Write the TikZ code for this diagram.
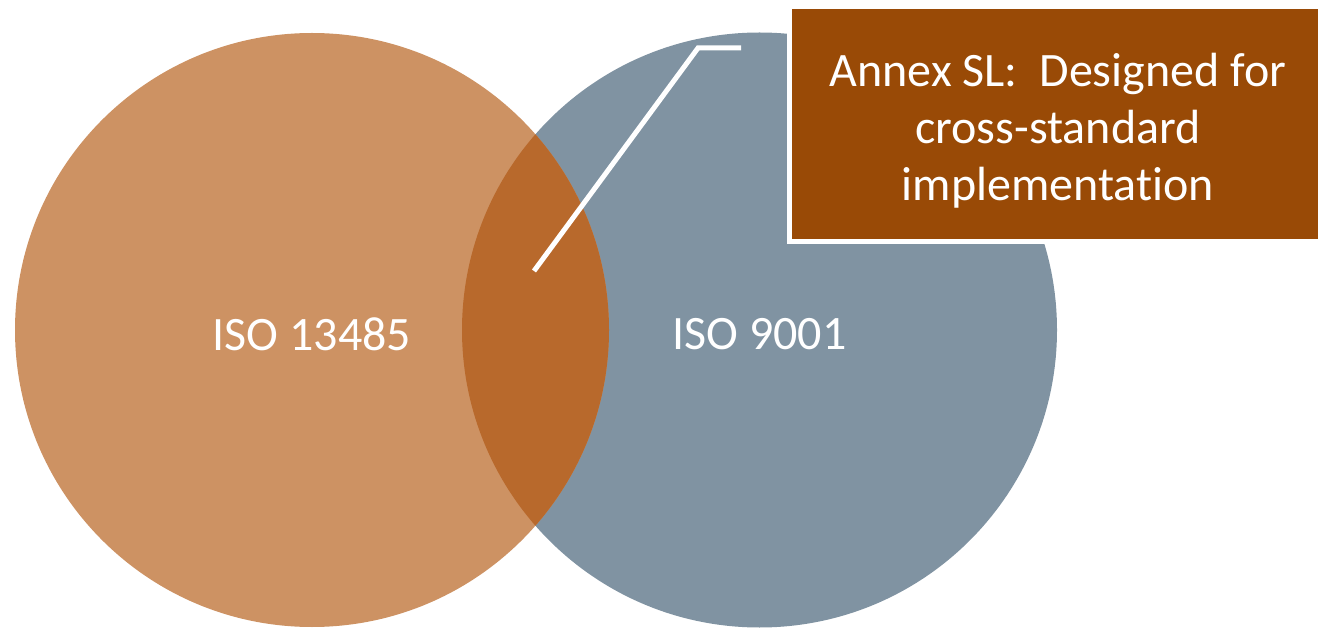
\documentclass[tikz,border=0pt]{standalone}
\usepackage{fontspec}
\setmainfont[Ligatures=NoCommon]{Carlito}
\definecolor{leftc}{HTML}{CD9263}
\definecolor{rightc}{HTML}{8093A2}
\definecolor{overc}{HTML}{B8692C}
\definecolor{boxc}{HTML}{994A06}
\tikzset{
  lbl/.style={text=white, font=\fontsize{48}{58}\selectfont, inner sep=0pt},
  callout/.style={fill=boxc, draw=white, line width=5pt},
  callouttext/.style={text=white, align=center, font=\fontsize{48}{57}\selectfont, inner sep=0pt},
  leader/.style={draw=white, line width=5pt}
}
\begin{document}
\begin{tikzpicture}[x=1pt,y=-1pt]
\useasboundingbox (0,0) rectangle (1318,628);
\fill[rightc] (759.5,330) circle (297.5);
\fill[leftc] (312,330) circle (297);
\begin{scope}
  \clip (759.5,330) circle (297.5);
  \fill[overc] (312,330) circle (297);
\end{scope}
\node[lbl] (l) at (312,334) {ISO 13485};
\node[lbl] (r) at (759.5,334) {ISO 9001};
\path[callout] (789,7) rectangle (1325,242);
\node[callouttext] (box) at (1058,131) {Annex SL:\ \ Designed for\\cross-standard\\implementation};
\coordinate (a) at (534,271);
\coordinate (b) at (698,48);
\coordinate (c) at (741,48);
\draw[leader] (a) -- (b) -- (c);
\end{tikzpicture}
\end{document}
